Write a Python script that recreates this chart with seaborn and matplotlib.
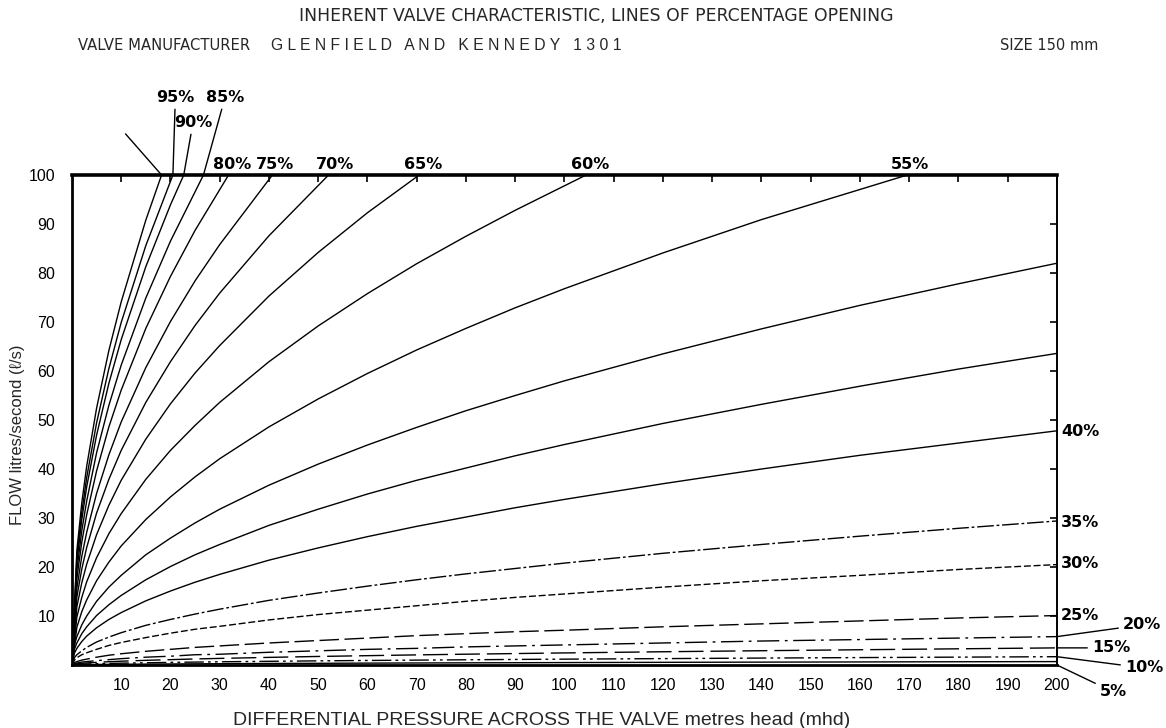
import matplotlib
matplotlib.use("Agg")
import matplotlib.pyplot as plt
import seaborn as sns

sns.set_style("white")
plt.rcParams["font.family"] = ["Liberation Sans Narrow", "DejaVu Sans"]

# ---- curve data: flow (l/s) against differential head (mhd) per % opening ----
x_100 = [0, 0.5, 1, 2, 3, 5, 7.5, 10, 15, 18.2]
y_100 = [0, 11.7, 23.4, 33.1, 40.6, 52.4, 64.2, 74.1, 90.8, 100]

x_95 = [0, 0.5, 1, 2, 3, 5, 7.5, 10, 15, 20.5]
y_95 = [0, 11.0, 22.1, 31.2, 38.3, 49.4, 60.5, 69.9, 85.6, 100]

x_90 = [0, 0.5, 1, 2, 3, 5, 7.5, 10, 15, 20, 22.7]
y_90 = [0, 10.5, 21.0, 29.7, 36.4, 46.9, 57.5, 66.4, 81.3, 93.9, 100]

x_85 = [0, 0.5, 1, 2, 3, 5, 7.5, 10, 15, 20, 26.7]
y_85 = [0, 9.7, 19.4, 27.4, 33.5, 43.3, 53.0, 61.2, 74.9, 86.5, 100]

x_80 = [0, 0.5, 1, 2, 3, 5, 7.5, 10, 15, 20, 25, 31.8]
y_80 = [0, 8.9, 17.7, 25.1, 30.7, 39.6, 48.6, 56.1, 68.7, 79.3, 88.7, 100]

x_75 = [0, 0.5, 1, 2, 3, 5, 7.5, 10, 15, 20, 25, 30, 40.7]
y_75 = [0, 7.8, 15.7, 22.2, 27.1, 35.0, 42.9, 49.6, 60.7, 70.1, 78.4, 85.8, 100]

x_70 = [0, 0.5, 1, 2, 3, 5, 7.5, 10, 15, 20, 25, 30, 40, 52.1]
y_70 = [0, 6.9, 13.9, 19.6, 24.0, 31.0, 37.9, 43.8, 53.6, 61.9, 69.3, 75.9, 87.6, 100]

x_65 = [0, 0.5, 1, 2, 3, 5, 7.5, 10, 15, 20, 25, 30, 40, 50, 60, 70.5]
y_65 = [0, 6.0, 11.9, 16.8, 20.6, 26.6, 32.6, 37.7, 46.1, 53.3, 59.6, 65.2, 75.3,
        84.2, 92.3, 100]

x_60 = [0, 0.5, 1, 2, 3, 5, 7.5, 10, 15, 20, 25, 30, 40, 50, 60, 70, 80, 90, 104.4]
y_60 = [0, 4.9, 9.8, 13.8, 17.0, 21.9, 26.8, 30.9, 37.9, 43.8, 48.9, 53.6, 61.9,
        69.2, 75.8, 81.9, 87.5, 92.8, 100]

x_55 = [0, 0.5, 1, 2, 3, 5, 7.5, 10, 15, 20, 25, 30, 40, 50, 60, 70, 80, 90, 100,
        120, 140, 169.6]
y_55 = [0, 3.8, 7.7, 10.9, 13.3, 17.2, 21.0, 24.3, 29.7, 34.3, 38.4, 42.1, 48.6,
        54.3, 59.5, 64.3, 68.7, 72.9, 76.8, 84.1, 90.9, 100]

# lower openings run across the full head range
x_full = [0, 0.5, 1, 2, 3, 5, 7.5, 10, 15, 20, 25, 30, 40, 50, 60, 70, 80, 90, 100,
          120, 140, 160, 180, 200]
y_50 = [0, 4.1, 5.8, 8.2, 10.0, 13.0, 15.9, 18.3, 22.5, 25.9, 29.0, 31.8, 36.7, 41.0,
        44.9, 48.5, 51.9, 55.0, 58.0, 63.5, 68.6, 73.4, 77.8, 82.0]
y_45 = [0, 3.2, 4.5, 6.4, 7.8, 10.1, 12.3, 14.2, 17.4, 20.1, 22.5, 24.6, 28.5, 31.8,
        34.9, 37.7, 40.2, 42.7, 45.0, 49.3, 53.2, 56.9, 60.4, 63.6]
y_40 = [0, 2.4, 3.4, 4.8, 5.9, 7.6, 9.3, 10.7, 13.1, 15.1, 16.9, 18.5, 21.4, 23.9,
        26.2, 28.3, 30.2, 32.1, 33.8, 37.0, 40.0, 42.8, 45.3, 47.8]
y_35 = [0, 1.5, 2.1, 2.9, 3.6, 4.7, 5.7, 6.6, 8.1, 9.3, 10.4, 11.4, 13.2, 14.7, 16.1,
        17.4, 18.6, 19.7, 20.8, 22.8, 24.6, 26.3, 27.9, 29.4]
y_30 = [0, 1.0, 1.5, 2.1, 2.5, 3.2, 4.0, 4.6, 5.6, 6.5, 7.3, 7.9, 9.2, 10.3, 11.2,
        12.1, 13.0, 13.8, 14.5, 15.9, 17.2, 18.3, 19.5, 20.5]
y_25 = [0, 0.5, 0.7, 1.0, 1.2, 1.6, 2.0, 2.3, 2.8, 3.2, 3.6, 3.9, 4.5, 5.0, 5.5, 6.0,
        6.4, 6.8, 7.1, 7.8, 8.4, 9.0, 9.6, 10.1]
y_20 = [0, 0.3, 0.4, 0.6, 0.7, 0.9, 1.1, 1.3, 1.6, 1.8, 2.1, 2.2, 2.6, 2.9, 3.2, 3.4,
        3.7, 3.9, 4.1, 4.5, 4.9, 5.2, 5.5, 5.8]
y_15 = [0, 0.2, 0.25, 0.35, 0.43, 0.55, 0.68, 0.78, 0.96, 1.1, 1.24, 1.35, 1.56, 1.75,
        1.91, 2.07, 2.21, 2.34, 2.47, 2.71, 2.92, 3.12, 3.31, 3.5]
y_10 = [0, 0.08, 0.12, 0.17, 0.21, 0.27, 0.33, 0.38, 0.46, 0.54, 0.6, 0.66, 0.76,
        0.85, 0.93, 1.0, 1.07, 1.14, 1.2, 1.31, 1.42, 1.52, 1.61, 1.7]
y_5 = [0, 0.04, 0.05, 0.07, 0.09, 0.11, 0.14, 0.16, 0.19, 0.22, 0.25, 0.27, 0.32,
       0.35, 0.39, 0.42, 0.45, 0.47, 0.5, 0.55, 0.59, 0.63, 0.67, 0.7]

x_ticks = list(range(10, 201, 10))
y_ticks = list(range(10, 101, 10))

curves = [
    (x_100, y_100, None), (x_95, y_95, None), (x_90, y_90, None),
    (x_85, y_85, None), (x_80, y_80, None), (x_75, y_75, None),
    (x_70, y_70, None), (x_65, y_65, None), (x_60, y_60, None),
    (x_55, y_55, None), (x_full, y_50, None), (x_full, y_45, None),
    (x_full, y_40, None), (x_full, y_35, (12, 2, 2, 2)),
    (x_full, y_30, (5, 2)), (x_full, y_25, (14, 4)),
    (x_full, y_20, (16, 4, 2, 4)), (x_full, y_15, (18, 5)),
    (x_full, y_10, (14, 3, 2, 3, 2, 3)), (x_full, y_5, None),
]

fig = plt.figure(figsize=(11.66, 7.28), dpi=100)
ax = fig.add_axes([0.0617, 0.0865, 0.8448, 0.6731])

for xs, ys, dash in curves:
    sns.lineplot(x=xs, y=ys, ax=ax, color="black", linewidth=1.0, sort=False)
    if dash is not None:
        ax.lines[-1].set_dashes(dash)

ax.set_xlim(0, 200)
ax.set_ylim(0, 100)
ax.set_xticks(x_ticks)
ax.set_yticks(y_ticks)
ax.tick_params(axis="both", direction="in", length=5, width=1.2, color="black",
               labelsize=11.5, labelcolor="black", top=True, right=True)
ax.tick_params(axis="x", pad=9)
ax.tick_params(axis="y", pad=12)
for lab in ax.get_xticklabels() + ax.get_yticklabels():
    lab.set_family(["Liberation Sans", "DejaVu Sans"])

for side, lw in (("top", 2.6), ("left", 2.0), ("bottom", 2.0), ("right", 1.4)):
    ax.spines[side].set_visible(True)
    ax.spines[side].set_color("black")
    ax.spines[side].set_linewidth(lw)

ax.set_xlabel("DIFFERENTIAL PRESSURE ACROSS THE VALVE metres head (mhd)",
              fontsize=14, family=["Liberation Sans", "DejaVu Sans"])
ax.xaxis.set_label_coords(0.477, -0.095)
ax.set_ylabel("FLOW litres/second (ℓ/s)", fontsize=12,
              family=["Liberation Sans", "DejaVu Sans"])
ax.yaxis.set_label_coords(-0.048, 0.47)

# percentage labels
pct_font = dict(fontsize=11.5, fontweight="bold", color="black",
                family=["Liberation Sans Narrow", "DejaVu Sans"])
leader = dict(arrowstyle="-", color="black", lw=1.0, shrinkA=1, shrinkB=0)

# leader for the fully open line (label off the sheet)
ax.annotate("", xy=(18.2, 100), xytext=(10.7, 108.6), annotation_clip=False,
            arrowprops=leader)
for txt, tip, pos in (("95%", (20.5, 100), (21.0, 115.9)),
                      ("90%", (22.7, 100), (24.6, 110.8)),
                      ("85%", (26.7, 100), (31.1, 115.9))):
    ax.annotate(txt, xy=tip, xytext=pos, ha="center", va="center",
                annotation_clip=False, arrowprops=leader, **pct_font)

for txt, xpos in (("80%", 32.5), ("75%", 41.3), ("70%", 53.5), ("65%", 71.4),
                  ("60%", 105.2), ("55%", 170.2)):
    ax.text(xpos, 100.7, txt, ha="center", va="bottom", **pct_font)

for txt, ypos in (("40%", 47.6), ("35%", 29.0), ("30%", 20.8), ("25%", 10.2)):
    ax.text(200.8, ypos, txt, ha="left", va="center", **pct_font)

for txt, tip, pos in (("20%", (200, 5.8), (213.4, 8.2)),
                      ("15%", (200, 3.5), (207.1, 3.5)),
                      ("10%", (200, 1.7), (213.8, -0.6)),
                      ("5%", (200, 0.0), (208.7, -5.5))):
    ax.annotate(txt, xy=tip, xytext=pos, ha="left", va="center",
                annotation_clip=False, arrowprops=leader, **pct_font)

# heading lines
hfont = ["Liberation Sans Narrow", "DejaVu Sans"]
fig.text(0.511, 0.978, "INHERENT VALVE CHARACTERISTIC, LINES OF PERCENTAGE OPENING",
         ha="center", va="center", fontsize=12.4, family=hfont)
fig.text(0.067, 0.937, "VALVE MANUFACTURER", ha="left", va="center",
         fontsize=10.6, family=hfont)
fig.text(0.232, 0.937, "G L E N F I E L D   A N D   K E N N E D Y   1 3 0 1",
         ha="left", va="center", fontsize=11.3, family=["Liberation Sans", "DejaVu Sans"])
fig.text(0.858, 0.937, "SIZE 150 mm", ha="left", va="center", fontsize=10.5,
         family=hfont)

fig.savefig("out.png", dpi=100, facecolor="white")
